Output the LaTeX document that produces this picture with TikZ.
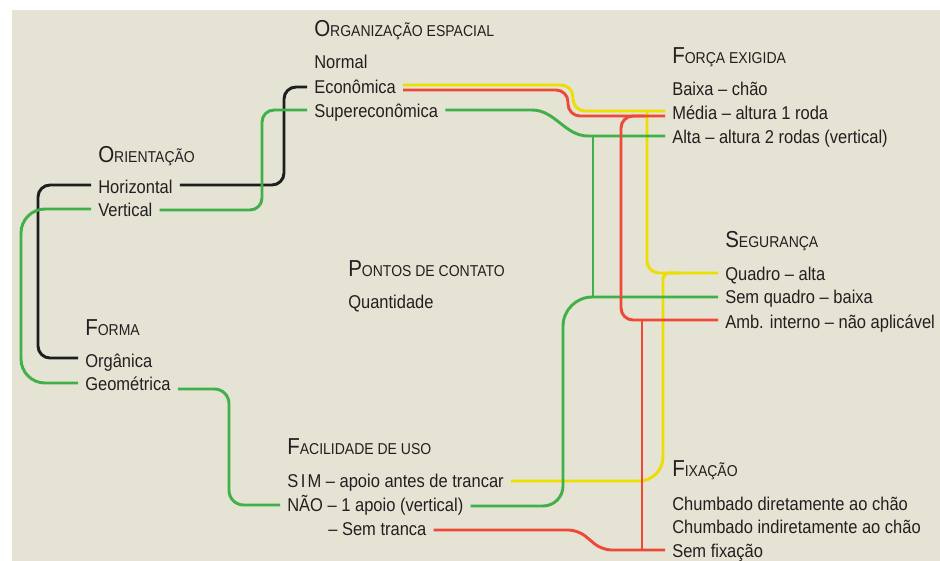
\documentclass[tikz,border=0pt]{standalone}
\usepackage{fontspec}
\setmainfont{Liberation Sans}[FakeStretch=0.89]
\usetikzlibrary{calc}
\definecolor{bg}{RGB}{229,227,212}
\definecolor{txt}{RGB}{35,31,32}
\definecolor{yel}{RGB}{236,222,0}
\definecolor{redl}{RGB}{238,72,55}
\definecolor{grn}{RGB}{64,176,72}
\definecolor{blk}{RGB}{30,30,30}
\newcommand\hd[2]{{\fontsize{17.3}{18}\selectfont #1}{\fontsize{11.8}{12}\selectfont #2}}
\begin{document}
\begin{tikzpicture}[x=0.75pt,y=-0.75pt,
  lbl/.style={anchor=base west, inner xsep=5.25pt, inner ysep=0pt, text=txt, font=\fontsize{13.9}{15}\selectfont},
  wire/.style={line width=2.2pt, rounded corners=9pt}]
\useasboundingbox (0,0) rectangle (940,561);
\fill[bg] (12,10) rectangle (940,561);
% texts
\node[lbl] (hOrg) at (307,36) {\hd{O}{RGANIZAÇÃO ESPACIAL}};
\node[lbl] (normal) at (307,68) {Normal};
\node[lbl] (econ) at (307,93) {Econômica};
\node[lbl] (super) at (307,117) {Supereconômica};
\node[lbl] (hOri) at (91,162) {\hd{O}{RIENTAÇÃO}};
\node[lbl] (horiz) at (91,193) {Horizontal};
\node[lbl] (vert) at (91,216) {Vertical};
\node[lbl] (hForma) at (78,335) {\hd{F}{ORMA}};
\node[lbl] (organ) at (78,367) {Orgânica};
\node[lbl] (geom) at (78,390) {Geométrica};
\node[lbl] (hPont) at (341,276) {\hd{P}{ONTOS DE CONTATO}};
\node[lbl] (quant) at (341,308) {Quantidade};
\node[lbl] (hFac) at (280,454) {\hd{F}{ACILIDADE DE USO}};
\node[lbl] (sim) at (280,487) {S\kern2pt I\kern1.5pt M – apoio antes de trancar};
\node[lbl] (nao) at (280,511) {NÃO – 1 apoio (vertical)};
\node[lbl] (semt) at (321,535) {– Sem tranca};
\node[lbl] (hForca) at (665,63) {\hd{F}{ORÇA EXIGIDA}};
\node[lbl] (baixa) at (665,95) {Baixa – chão};
\node[lbl] (media) at (665,119) {Média – altura 1 roda};
\node[lbl] (alta) at (665,143) {Alta – altura 2 rodas (vertical)};
\node[lbl] (hSeg) at (718,247) {\hd{S}{EGURANÇA}};
\node[lbl] (quadro) at (718,280) {Quadro – alta};
\node[lbl] (semq) at (718,303) {Sem quadro – baixa};
\node[lbl] (amb) at (718,328) {Amb. interno – não aplicável};
\node[lbl] (hFix) at (665,476) {\hd{F}{IXAÇÃO}};
\node[lbl] (chd) at (665,510) {Chumbado diretamente ao chão};
\node[lbl] (chi) at (665,533) {Chumbado indiretamente ao chão};
\node[lbl] (semfix) at (665,557) {Sem fixação};
% junction coordinates
\coordinate (yj1) at (647,111);
\coordinate (yj2) at (680,273);
\coordinate (gj1) at (593,136);
\coordinate (gj2) at (593,297);
\coordinate (rj1) at (645,116);
\coordinate (rj2) at (642,320);
\coordinate (rj3) at (642,550);
% black
\draw[wire,blk] (horiz.east |- 0,185) -- (284,185) -- (284,87) -- (econ.west |- 0,87);
\draw[wire,blk] (horiz.west |- 0,185) -- (38,185) -- (38,358) -- (organ.west |- 0,358);
% yellow
\draw[wire,yel] (econ.east |- 0,85) -- (573,85) -- (573,111) -- (media.west |- 0,111);
\draw[wire,yel] (yj1) -- (647,273) -- (quadro.west |- 0,273);
\draw[wire,yel,rounded corners=4pt] (yj2) -- (663,273) [rounded corners=18pt] -- (663,481) -- (sim.east |- 0,481);
% green
\draw[wire,grn] (vert.east |- 0,210) -- (262,210) -- (262,110) -- (super.west |- 0,110);
\draw[wire,grn,rounded corners=18pt] (vert.west |- 0,209) -- (21,209) -- (21,383) -- (geom.west |- 0,383);
\draw[wire,grn,rounded corners=11pt] (geom.east |- 0,389) -- (229,389) -- (229,505) -- (nao.west |- 0,505);
\draw[wire,grn] (super.east |- 0,110) -- (520,110) .. controls (555,110) and (565,136) .. (600,136) -- (alta.west |- 0,136);
\draw[wire,grn] (gj1) -- (gj2);
\draw[wire,grn] (nao.east |- 0,506) [rounded corners=15pt] -- (563,506) [rounded corners=22pt] -- (563,297) -- (semq.west |- 0,297);
% red
\draw[wire,redl] (econ.east |- 0,90) -- (568,90) -- (568,116) -- (media.west |- 0,116);
\draw[wire,redl] (rj1) -- (621,116) -- (621,320) -- (amb.west |- 0,320);
\draw[wire,redl] (rj2) -- (rj3);
\draw[wire,redl,rounded corners=7pt] (semt.east |- 0,530) -- (578,530) -- (602,550) -- (semfix.west |- 0,550);
\end{tikzpicture}
\end{document}
